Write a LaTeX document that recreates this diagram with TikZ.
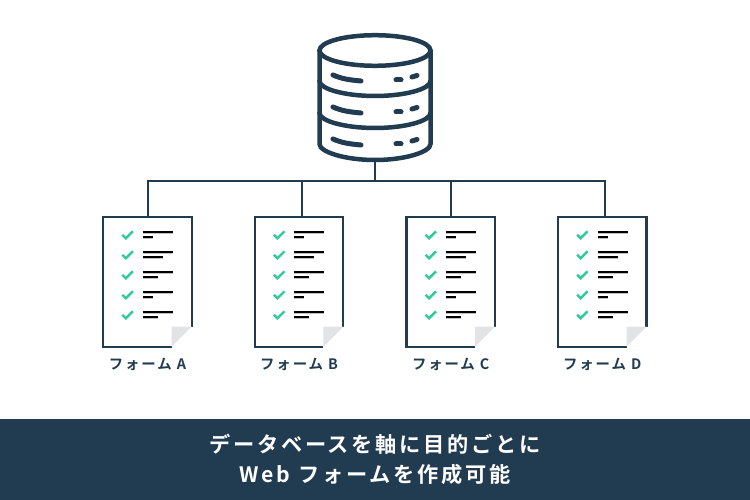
\documentclass[tikz,border=0pt]{standalone}
\usepackage{fontspec}
\setmainfont{Noto Sans CJK JP}[BoldFont={Noto Sans CJK JP Bold}]
\newfontfamily\spacedfont{Noto Sans CJK JP Bold}[LetterSpace=13]
\usepackage{tikz}
\usetikzlibrary{positioning}
\definecolor{navy}{HTML}{213B50}
\definecolor{mint}{HTML}{2ECC9A}
\definecolor{foldgray}{HTML}{E2E3E5}

% one form sheet: outline, folded corner, five ticked rows
\newcommand{\formsheet}[1]{
	\draw[outline] ([xshift=-20pt]#1.south east) -- (#1.south west) -- (#1.north west) -- (#1.north east) -- ([yshift=20pt]#1.south east);
	\fill[foldgray] ([xshift=-20pt]#1.south east) -- ([xshift=-20pt,yshift=20pt]#1.south east) -- ([yshift=20pt]#1.south east) -- cycle;
	\foreach \row/\rowlen in {0/10,1/20,2/15,3/10,4/15} {
		\draw[tick] ([xshift=19pt,yshift=-18pt-20pt*\row]#1.north west) -- ++(3.5,3.5) -- ++(7,-7);
		\draw[textline] ([xshift=39.5pt,yshift=-15pt-20pt*\row]#1.north west) -- ++(30,0);
		\draw[textline] ([xshift=39.5pt,yshift=-20.5pt-20pt*\row]#1.north west) -- ++(\rowlen,0);
	}
}

\begin{document}
\begin{tikzpicture}[x=1pt, y=-1pt, node distance=63.2pt]
	
	\tikzstyle{wire}=[draw=navy, line width=2pt]
	\tikzstyle{outline}=[draw=navy, line width=2.3pt]
	\tikzstyle{dbline}=[draw=navy, line width=4.5pt, line cap=round]
	\tikzstyle{formbox}=[minimum width=88pt, minimum height=129.5pt, inner sep=0pt]
	\tikzstyle{formlabel}=[text=navy, font=\spacedfont\fontsize{14.4}{14.4}\selectfont, inner sep=0pt]
	\tikzstyle{tick}=[draw=mint, line width=2.4pt]
	\tikzstyle{textline}=[draw=black, line width=2pt, preaction={draw=black!25, transform canvas={yshift=-1pt}}]
	\tikzstyle{caption}=[text=white, font=\spacedfont\fontsize{21.2}{30}\selectfont, align=center, inner sep=0pt]
	
	\useasboundingbox (0,0) rectangle (750,500);
	
	% Bottom band
	\fill[navy] (0,419) rectangle (750,500);
	\node[caption] (capt) at (375,459) {データベースを軸に目的ごとに\\Web フォームを作成可能};
	
	% Database
	\node[minimum width=111pt, minimum height=110pt, inner sep=0pt] (db) at (375,105) {};
	\draw[dbline] (375,50.5) ellipse (55.5 and 15.3);
	\draw[dbline] (319.5,50.5) -- (319.5,144) .. controls (319.5,152) and (345,160) .. (375,160) .. controls (405,160) and (430.5,152) .. (430.5,144) -- (430.5,50.5);
	\foreach \level in {0,32} {
		\draw[dbline] (319.5,81+\level) .. controls (319.5,89+\level) and (345,96+\level) .. (375,96+\level) .. controls (405,96+\level) and (430.5,89+\level) .. (430.5,81+\level);
	}
	\foreach \level in {0,32,64} {
		\draw[dbline, line width=5pt] (333,75+\level) .. controls (342,79+\level) and (350,80+\level) .. (361,81+\level);
		\draw[dbline, line width=5pt] (396,80+\level) -- (401,80+\level);
		\draw[dbline, line width=5pt] (412,77+\level) -- (417,75.5+\level);
	}
	
	% Forms
	\node[formbox] (formA) at (147.5,281.75) {};
	\node[formbox, right=of formA] (formB) {};
	\node[formbox, right=of formB] (formC) {};
	\node[formbox, right=of formC] (formD) {};
	\foreach \f in {formA,formB,formC,formD} {\formsheet{\f}}
	
	% Form labels
	\node[formlabel, below=11.5pt of formA] (labA) {フォーム A};
	\node[formlabel, below=11.5pt of formB] (labB) {フォーム B};
	\node[formlabel, below=11.5pt of formC] (labC) {フォーム C};
	\node[formlabel, below=11.5pt of formD] (labD) {フォーム D};
	
	% Tree
	\coordinate (hub) at (375,181);
	\draw[wire] (db.south) -- (hub);
	\draw[wire] (formA.north) |- (hub);
	\draw[wire] ([xshift=3pt]formD.north) |- (hub);
	\draw[wire] ([xshift=3pt]formB.north) -- ([xshift=3pt]formB.north |- hub);
	\draw[wire] (formC.north) -- (formC.north |- hub);
	
\end{tikzpicture}
\end{document}
